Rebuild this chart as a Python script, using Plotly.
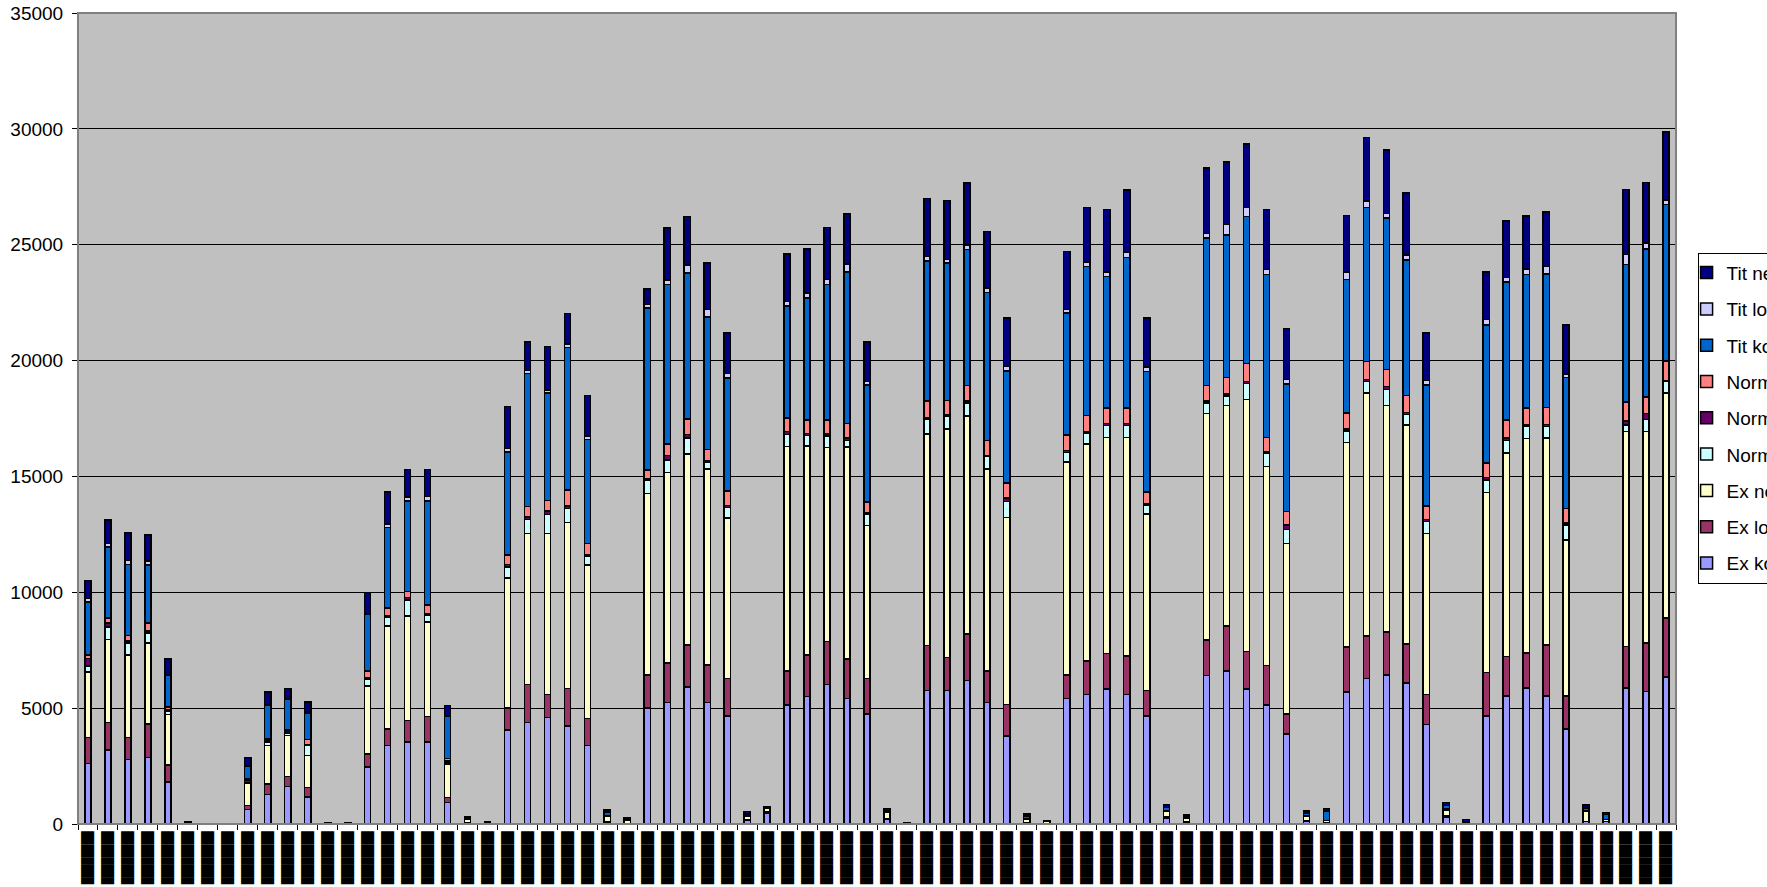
import plotly.graph_objects as go

categories = [str(i) for i in range(1, 81)]
tick_labels = ["████████"] * 80

ex_ko = [2620, 3190, 2790, 2880, 1810, 30, 0, 0, 620, 1280, 1620, 1160, 30, 30, 2450, 3390, 3540, 3540, 920, 30,
         0, 4050, 4390, 4590, 4230, 3390, 50, 30, 5000, 5250, 5920, 5250, 4660, 150, 480, 5140, 5510, 6020, 5410, 4740,
         200, 0, 5760, 5760, 6190, 5250, 3790, 60, 0, 5410, 5580, 5830, 5580, 4660, 250, 80, 6410, 6600, 5830, 5140,
         3880, 100, 60, 5690, 6270, 6430, 6090, 4300, 300, 50, 4660, 5520, 5860, 5520, 4100, 100, 100, 5860, 5710, 6350]
ex_loe = [1110, 1200, 940, 1440, 730, 0, 0, 0, 180, 440, 420, 410, 0, 0, 580, 700, 920, 1090, 220, 20,
          0, 950, 1630, 990, 1620, 1170, 30, 0, 1430, 1690, 1810, 1620, 1610, 30, 30, 1460, 1780, 1850, 1710, 1530,
          40, 0, 1940, 1430, 2010, 1360, 1360, 0, 0, 1020, 1460, 1530, 1680, 1110, 60, 0, 1530, 1940, 1620, 1710,
          860, 30, 0, 1940, 1840, 1850, 1670, 1280, 60, 0, 1870, 1710, 1510, 2200, 1420, 0, 0, 1810, 2100, 2540]
ex_ne = [2830, 3570, 3560, 3500, 2190, 30, 0, 0, 960, 1670, 1790, 1390, 20, 20, 2920, 4450, 4510, 4080, 1460, 150,
         50, 5610, 6520, 6960, 7170, 6610, 250, 150, 7830, 8240, 8240, 8460, 6940, 150, 180, 9700, 9020, 8380, 9140, 6610,
         250, 30, 9140, 9850, 9410, 8720, 8070, 150, 100, 9190, 9360, 9330, 9430, 7610, 250, 150, 9770, 9520, 10860, 8570,
         7360, 200, 100, 8830, 10490, 9780, 9460, 6960, 250, 50, 7770, 8790, 9270, 8930, 6740, 450, 100, 9270, 9120, 9720]
norm_ko = [260, 540, 530, 420, 140, 0, 0, 0, 40, 150, 70, 440, 0, 0, 300, 390, 700, 320, 30, 0,
           0, 480, 610, 820, 600, 380, 30, 0, 580, 520, 690, 270, 440, 20, 0, 500, 450, 500, 300, 480,
           30, 0, 610, 550, 560, 520, 690, 20, 0, 420, 470, 510, 510, 370, 30, 0, 460, 420, 700, 560,
           600, 20, 0, 510, 500, 690, 460, 510, 40, 0, 540, 540, 510, 510, 650, 30, 0, 270, 520, 510]
norm_loe = [320, 170, 70, 90, 70, 0, 0, 0, 100, 60, 60, 30, 0, 0, 60, 70, 110, 40, 80, 0,
            0, 100, 90, 140, 100, 50, 0, 0, 60, 210, 140, 70, 100, 0, 0, 140, 90, 90, 90, 60,
            0, 0, 70, 60, 80, 60, 170, 0, 0, 70, 70, 80, 80, 70, 0, 0, 80, 70, 80, 80,
            210, 0, 0, 80, 80, 140, 80, 90, 0, 0, 110, 90, 80, 80, 80, 0, 0, 180, 260, 30]
norm_ne = [160, 220, 250, 350, 100, 0, 0, 0, 40, 60, 90, 220, 0, 0, 290, 320, 250, 390, 110, 0,
           0, 410, 470, 470, 690, 500, 0, 0, 380, 490, 680, 490, 630, 0, 0, 590, 590, 590, 640, 480,
           0, 0, 730, 620, 680, 640, 630, 0, 0, 680, 680, 680, 680, 510, 0, 0, 680, 730, 780, 630,
           580, 0, 0, 680, 780, 730, 730, 580, 0, 0, 620, 780, 730, 730, 630, 0, 0, 830, 720, 830]
tit_ko = [2290, 3060, 3060, 2490, 1360, 0, 0, 0, 560, 1480, 1330, 1150, 0, 0, 2450, 3470, 3920, 4490, 1850, 50,
          0, 4460, 5730, 4630, 6150, 4500, 150, 30, 6980, 6880, 6300, 5710, 4860, 80, 0, 4830, 5270, 5860, 6540, 5050,
          60, 0, 6050, 5950, 5860, 6390, 4830, 120, 0, 5270, 6440, 5660, 6490, 5200, 120, 80, 6350, 6150, 6350, 7030,
          5500, 120, 400, 5760, 6640, 6540, 5860, 5220, 150, 0, 5960, 5960, 5760, 5760, 5660, 100, 200, 5930, 6380, 6750]
tit_loe = [150, 160, 180, 180, 30, 0, 0, 0, 20, 20, 30, 30, 0, 0, 30, 150, 160, 180, 20, 0,
           0, 140, 140, 140, 150, 140, 0, 0, 150, 200, 340, 340, 200, 0, 0, 200, 200, 200, 340, 150,
           0, 0, 200, 150, 200, 200, 200, 0, 0, 150, 200, 200, 240, 200, 0, 0, 200, 440, 390, 200,
           200, 0, 0, 340, 290, 190, 200, 200, 0, 0, 240, 200, 240, 340, 150, 0, 0, 430, 260, 200]
tit_ne = [770, 1020, 1170, 1120, 690, 20, 0, 0, 350, 540, 440, 430, 20, 20, 910, 1380, 1190, 1160, 420, 60,
          60, 1810, 1220, 1860, 1320, 1760, 100, 80, 680, 2250, 2100, 2000, 1760, 120, 40, 2050, 1900, 2250, 2150, 1710,
          90, 30, 2490, 2540, 2680, 2440, 2100, 80, 50, 2490, 2340, 2690, 2680, 2100, 110, 80, 2830, 2690, 2730, 2590,
          2200, 100, 100, 2440, 2730, 2730, 2680, 2050, 120, 100, 2050, 2440, 2290, 2340, 2100, 130, 100, 2810, 2610, 2930]

series = [
    ("Ex ko", ex_ko, "#9999FF"),
    ("Ex loe", ex_loe, "#993366"),
    ("Ex ne", ex_ne, "#FFFFCC"),
    ("Norm ko", norm_ko, "#CCFFFF"),
    ("Norm loe", norm_loe, "#660066"),
    ("Norm ne", norm_ne, "#FF8080"),
    ("Tit ko", tit_ko, "#0066CC"),
    ("Tit loe", tit_loe, "#CCCCFF"),
    ("Tit ne", tit_ne, "#000080"),
]

fig = go.Figure()
n = len(series)
for k, (name, vals, col) in enumerate(series):
    fig.add_trace(go.Bar(
        x=categories, y=vals, name=name, legendgroup=name, legendrank=n - k,
        marker=dict(color=col, line=dict(color="black", width=1.5)),
    ))

FONT = "Liberation Sans, Arial, sans-serif"
fig.update_layout(
    width=1767, height=887,
    barmode="stack", bargap=0.69,
    paper_bgcolor="white", plot_bgcolor="#C0C0C0",
    margin=dict(l=78, r=91, t=13, b=63, autoexpand=False),
    font=dict(family=FONT, size=19, color="black"),
    showlegend=True,
    legend=dict(
        x=1.0135, xanchor="left", y=0.7044, yanchor="top",
        traceorder="grouped", tracegroupgap=8.6, indentation=-12,
        bgcolor="white", bordercolor="black", borderwidth=1,
        font=dict(family=FONT, size=19, color="black"),
    ),
    xaxis=dict(
        type="category", tickmode="array", tickvals=categories, ticktext=tick_labels,
        tickangle=90, tickfont=dict(family="DejaVu Sans Mono", size=11, color="black"),
        tickson="boundaries", ticks="outside", ticklen=5, tickcolor="black",
        ticklabelstandoff=4,
        showline=True, linecolor="black", linewidth=1, showgrid=False,
        automargin=False, range=[-0.5, 79.5],
    ),
    yaxis=dict(
        range=[0, 35000], dtick=5000, tickformat="d",
        ticks="outside", ticklen=5, tickcolor="black", ticklabelstandoff=5,
        showline=True, linecolor="black", linewidth=1,
        showgrid=True, gridcolor="black", gridwidth=1, zeroline=False,
        tickfont=dict(family=FONT, size=19, color="black"), automargin=False,
    ),
    shapes=[dict(type="rect", xref="paper", yref="paper", x0=0, x1=1, y0=0, y1=1,
                 line=dict(color="#808080", width=2), layer="above")],
)

fig.write_html("out.html", config={"displayModeBar": False},
               post_script="document.body.style.margin='0';document.documentElement.style.overflow='hidden';")
